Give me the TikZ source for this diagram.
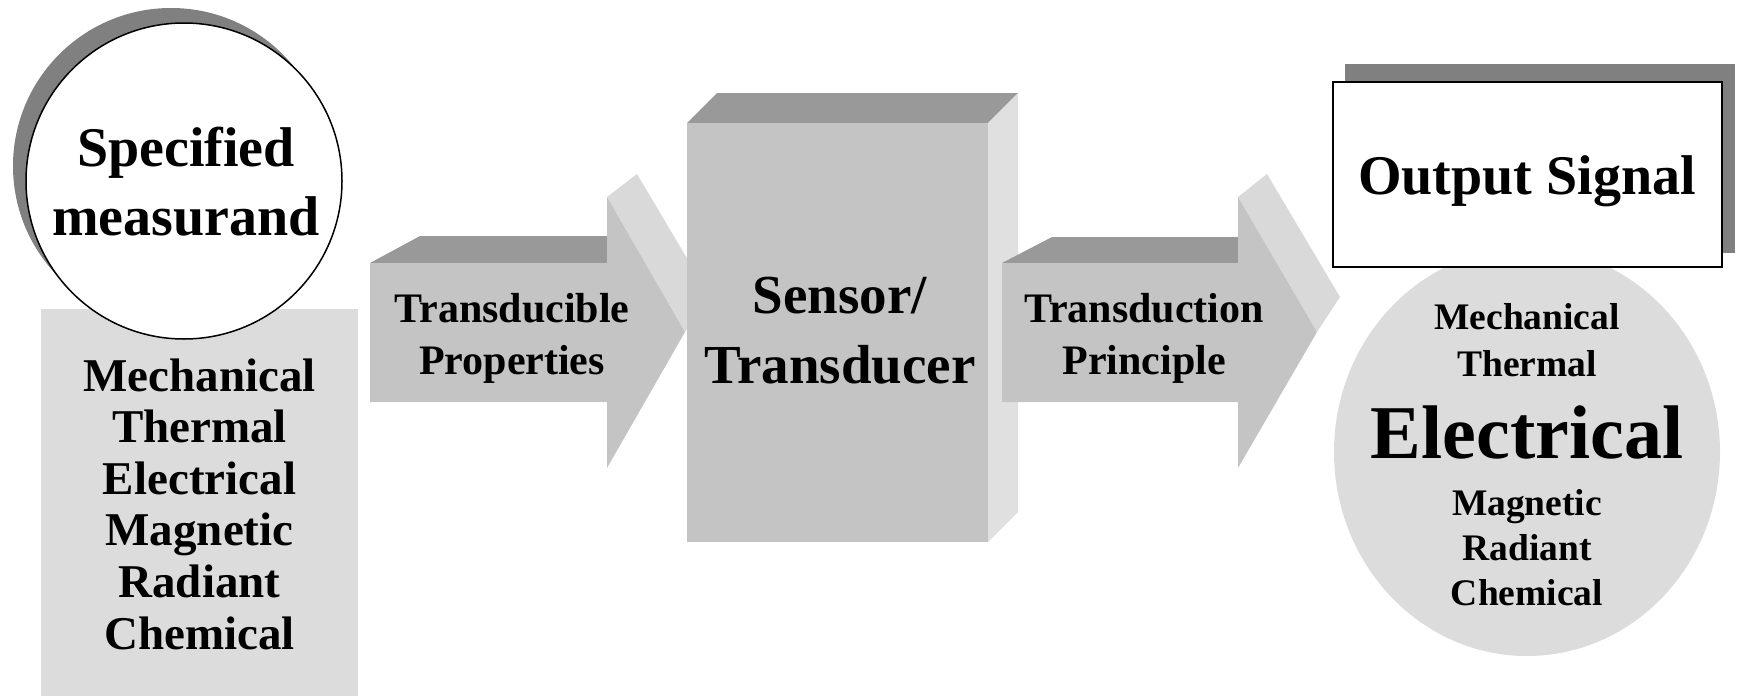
\documentclass[tikz,border=0pt]{standalone}
\usepackage{fontspec}
\setmainfont{Liberation Serif}
\usetikzlibrary{shapes.geometric}
\definecolor{frontgray}{HTML}{C4C4C4}
\definecolor{topgray}{HTML}{999999}
\definecolor{sidegray}{HTML}{D9D9D9}
\definecolor{boxside}{HTML}{E0E0E0}
\definecolor{panelgray}{HTML}{DCDCDC}
\definecolor{shadowgray}{HTML}{808080}
\begin{document}
\begin{tikzpicture}[x=1pt,y=-1pt,
  lbl/.style={inner sep=0pt, align=center, text=black},
  panel/.style={inner sep=0pt, anchor=north west},
  bigtxt/.style={lbl, font=\fontsize{56}{69}\selectfont\bfseries},
  midtxt/.style={lbl, font=\fontsize{42}{52}\selectfont\bfseries},
  listtxt/.style={lbl, font=\fontsize{47}{51.6}\selectfont\bfseries},
  smalltxt/.style={lbl, anchor=base, font=\fontsize{37.5}{45}\selectfont\bfseries}]
\useasboundingbox (0,0) rectangle (1747,696);

% ---------- left: specified measurand ----------
\node[panel, fill=panelgray, minimum width=317pt, minimum height=387pt] (domain) at (41,309) {};
\node[listtxt] (domtext) at (199.5,504) {Mechanical\\Thermal\\Electrical\\Magnetic\\Radiant\\Chemical};
\node[ellipse, inner sep=0pt, fill=shadowgray, minimum width=316pt, minimum height=316pt] (measshadow) at (171,166) {};
\node[ellipse, inner sep=0pt, draw=black, line width=1.5pt, fill=white, minimum width=316pt, minimum height=316pt] (meas) at (184,181) {};
\node[bigtxt] (meastext) at (186,182) {Specified\\measurand};

% ---------- arrow 1 ----------
\fill[topgray] (370,263) -- (420,236) -- (607,236) -- (607,263) -- cycle;
\fill[sidegray] (607,197) -- (637,174) -- (710,297) -- (685,332) -- cycle;
\fill[frontgray] (370,263) -- (607,263) -- (607,197) -- (685,332) -- (607,468) -- (607,402) -- (370,402) -- cycle;
\node[midtxt] (prop) at (512,338) {Transducible\\Properties};

% ---------- sensor block ----------
\fill[topgray] (687,123) -- (717,93) -- (1018,93) -- (988,123) -- cycle;
\fill[boxside] (988,123) -- (1018,93) -- (1018,512) -- (988,542) -- cycle;
\node[panel, fill=frontgray, minimum width=301pt, minimum height=419pt] (sensorface) at (687,123) {};
\node[lbl, font=\fontsize{55}{70}\selectfont\bfseries] (sensor) at (840,331) {Sensor/\\Transducer};

% ---------- arrow 2 ----------
\fill[topgray] (1002,263) -- (1052,237) -- (1238,237) -- (1238,263) -- cycle;
\fill[sidegray] (1238,197) -- (1267,174) -- (1340,297) -- (1317,332) -- cycle;
\fill[frontgray] (1002,263) -- (1238,263) -- (1238,197) -- (1317,332) -- (1238,468) -- (1238,402) -- (1002,402) -- cycle;
\node[midtxt] (princ) at (1144,338) {Transduction\\Principle};

% ---------- right: output ----------
\node[ellipse, inner sep=0pt, fill=panelgray, minimum width=386pt, minimum height=408pt] (outcirc) at (1527,452) {};
\node[smalltxt] (o1) at (1527,329) {Mechanical};
\node[smalltxt] (o2) at (1527,376) {Thermal};
\node[lbl, anchor=base, font=\fontsize{76}{80}\selectfont\bfseries] (o3) at (1527,458) {Electrical};
\node[smalltxt] (o4) at (1527,515) {Magnetic};
\node[smalltxt] (o5) at (1527,560) {Radiant};
\node[smalltxt] (o6) at (1527,605) {Chemical};

\node[panel, fill=shadowgray, minimum width=390pt, minimum height=189pt] (outshadow) at (1345,64) {};
\node[panel, draw=black, line width=2pt, fill=white, minimum width=389pt, minimum height=185pt] (outbox) at (1332,81) {};
\node[bigtxt] (outtext) at (1527,181) {Output Signal};
\end{tikzpicture}
\end{document}
